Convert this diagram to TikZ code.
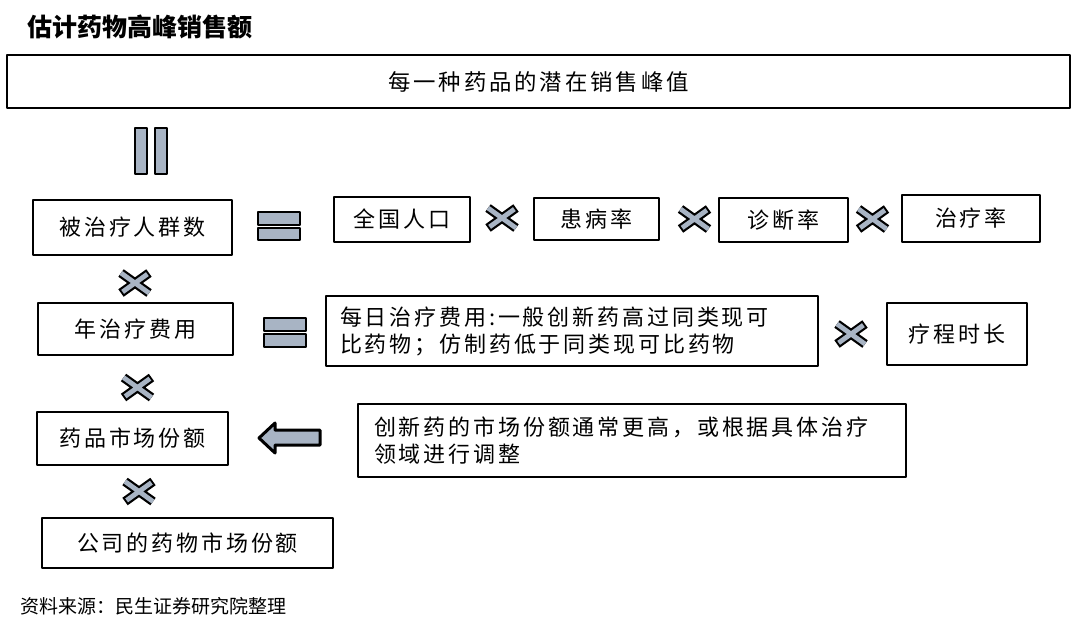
\documentclass[tikz,border=0pt]{standalone}
\usepackage{fontspec}
\newfontfamily\cjk[LetterSpace=13]{Noto Sans CJK SC}
\newfontfamily\cjkplain{Noto Sans CJK SC}
\definecolor{bargray}{RGB}{168,180,196}
\tikzset{
  box/.style={draw, line width=1pt, inner sep=0pt},
  crossmark/.pic={
    \draw[line width=4.6pt] (-14,-10)--(14,10) (-14,10)--(14,-10);
    \draw[line width=2.4pt, bargray, shorten <=1pt, shorten >=1pt] (-14,-10)--(14,10) (-14,10)--(14,-10);
  },
  eqbar/.style={draw, line width=1pt, fill=bargray}
}
\begin{document}
\begin{tikzpicture}[x=0.5pt, y=-0.5pt, font=\cjk\fontsize{11}{13.5}\selectfont, line join=round]
 \useasboundingbox[fill=white] (0,0) rectangle (1080,627);
 \node[anchor=west, font=\cjkplain\bfseries\fontsize{12.5}{15}\selectfont] (title) at (20,27) {估计药物高峰销售额};
 \node[box, minimum width=531.5pt, minimum height=26.5pt, font=\cjk\fontsize{11.2}{14}\selectfont] (peak) at (538.5,81.5) {每一种药品的潜在销售峰值};
 % first row
 \node[box, minimum width=99.5pt, minimum height=27.5pt] (patients) at (132.5,227.5) {被治疗人群数};
 \node[box, minimum width=68pt, minimum height=22.5pt] (pop) at (402,219.5) {全国人口};
 \node[box, minimum width=62.5pt, minimum height=21pt] (prev) at (596.5,219) {患病率};
 \node[box, minimum width=64.5pt, minimum height=22pt] (diag) at (783.5,220) {诊断率};
 \node[box, minimum width=69pt, minimum height=23.5pt] (treat) at (971,218.5) {治疗率};
 % second row
 \node[box, minimum width=97.5pt, minimum height=26pt] (cost) at (135.5,329) {年治疗费用};
 \node[box, minimum height=35pt, inner xsep=7pt, text width=232pt, align=left] (daily) at (572,331) {每日治疗费用:一般创新药高过同类现可\\比药物；仿制药低于同类现可比药物};
 \node[box, minimum width=70pt, minimum height=31pt] (course) at (957,334) {疗程时长};
 % third row
 \node[box, minimum width=95.5pt, minimum height=26.5pt] (share) at (132.5,438.5) {药品市场份额};
 \node[box, minimum height=36.5pt, inner xsep=8pt, text width=258pt, align=left] (note) at (632,440.5) {创新药的市场份额通常更高，或根据具体治疗\\领域进行调整};
 \node[box, minimum width=145.5pt, minimum height=25pt] (firm) at (187.5,543) {公司的药物市场份额};
 \node[anchor=west, font=\cjkplain\fontsize{9.5}{11}\selectfont] (source) at (13,606) {资料来源：民生证券研究院整理};
 % equals signs
 \draw[eqbar] (135,128) rectangle (147,174) (155,128) rectangle (167,174);
 \draw[eqbar] (258,212) rectangle (300,225) (258,228) rectangle (300,240);
 \draw[eqbar] (264,318) rectangle (306,331) (264,334) rectangle (306,347);
 % times signs
 \foreach \p in {(502,218),(694.5,219),(872.5,219),(135,283),(851,334),(137.5,387.5),(139,491.5)}
   \pic at \p {crossmark};
 % arrow
 \draw[line width=1.5pt, fill=bargray] (320,430)--(275,430)--(275,423)--(259,438)--(275,453)--(275,445)--(320,445)--cycle;
\end{tikzpicture}
\end{document}
